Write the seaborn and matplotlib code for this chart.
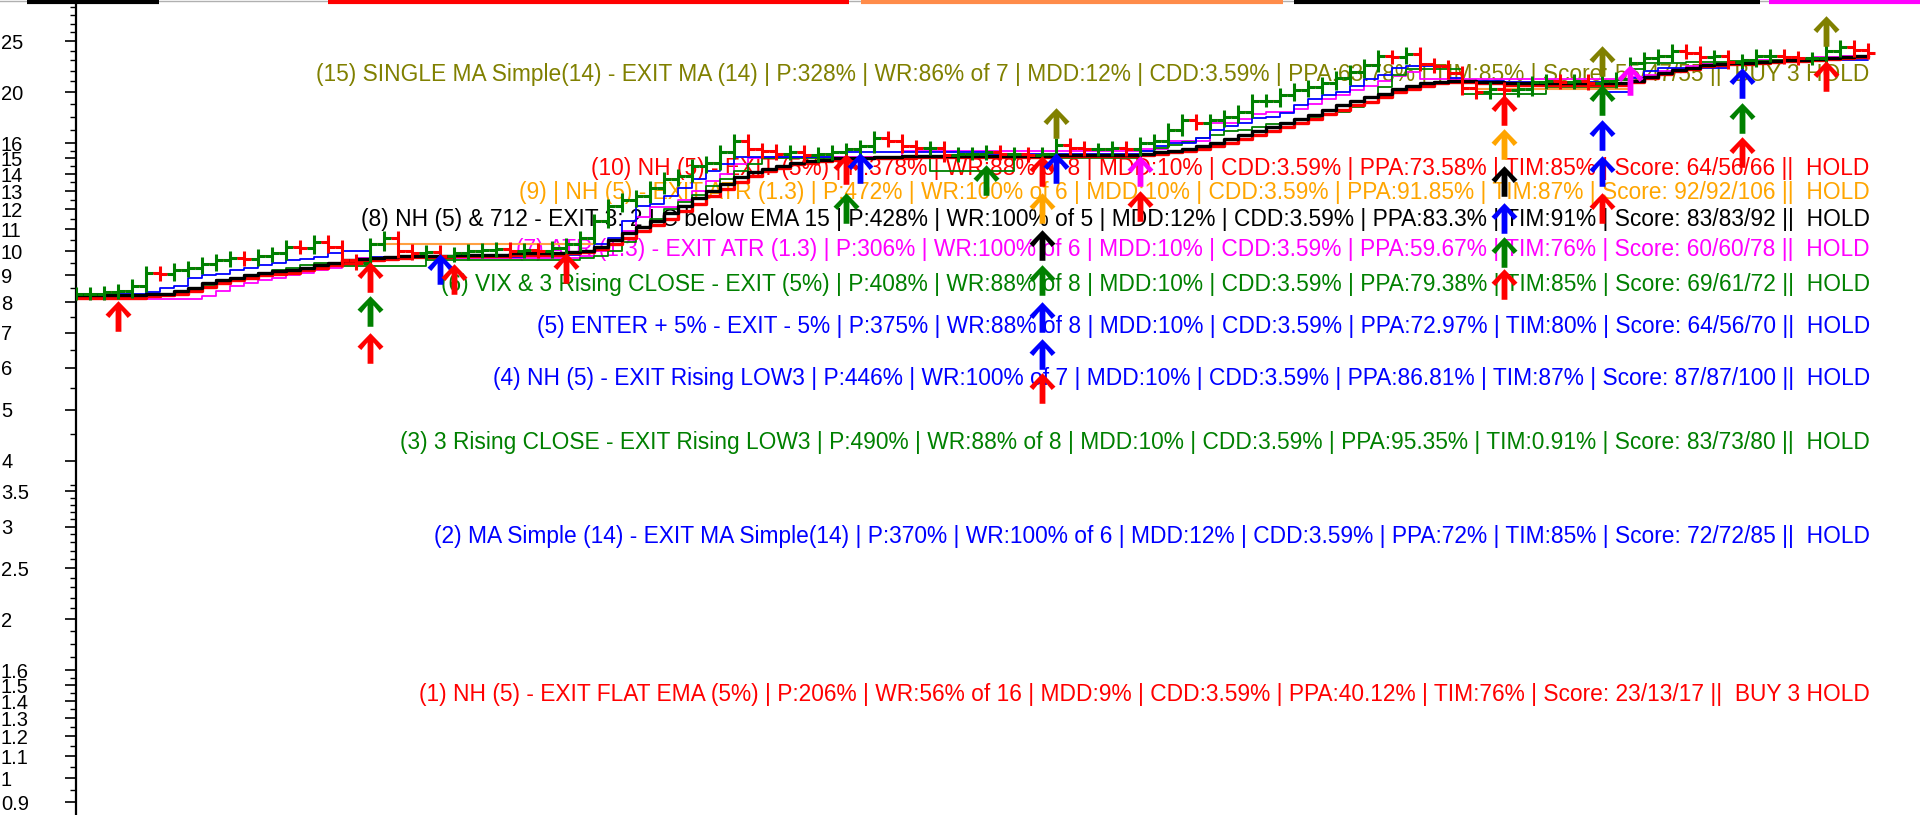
import matplotlib
matplotlib.use("Agg")
import matplotlib.pyplot as plt
import seaborn as sns
from matplotlib.path import Path
from matplotlib.ticker import NullFormatter, FixedLocator, FixedFormatter

# ---------------- data ----------------
close = [
    8.3, 8.3, 8.35, 8.4, 8.6, 9.1, 9.05, 9.2, 9.3, 9.45,
    9.6, 9.7, 9.65, 9.8, 9.9, 10.2, 10.15, 10.4, 10.2, 9.6,
    9.5, 10.3, 10.6, 10.0, 9.9, 9.95, 9.8, 9.9, 10.0, 10.05,
    10.1, 10.0, 10.05, 10.0, 10.15, 10.3, 10.6, 11.4, 12.2, 12.5,
    12.7, 13.2, 13.7, 13.9, 14.5, 14.7, 15.4, 16.2, 15.6, 15.5,
    15.3, 15.4, 15.2, 15.3, 15.4, 15.6, 15.8, 16.4, 16.2, 15.8,
    15.7, 15.7, 15.2, 15.3, 15.3, 15.4, 15.3, 15.3, 15.2, 15.3,
    15.9, 15.7, 15.6, 15.6, 15.7, 15.6, 16.0, 16.2, 17.0, 17.7,
    17.5, 17.7, 18.0, 18.4, 19.3, 19.3, 19.8, 20.2, 20.5, 20.8,
    21.3, 21.9, 22.5, 23.4, 23.3, 23.7, 22.6, 22.4, 21.8, 20.4,
    20.0, 20.3, 20.2, 20.3, 20.9, 21.0, 20.9, 21.0, 20.8, 21.0,
    21.2, 22.7, 23.2, 23.5, 24.0, 23.8, 23.3, 23.4, 22.8, 23.0,
    23.5, 23.5, 23.3, 23.2, 23.2, 24.0, 24.4, 24.1, 23.8,
]

eq_black = [
    8.25, 8.25, 8.25, 8.25, 8.25, 8.3, 8.3, 8.4, 8.5, 8.7,
    8.8, 8.9, 9.0, 9.1, 9.15, 9.2, 9.3, 9.4, 9.5, 9.6,
    9.65, 9.7, 9.75, 9.8, 9.8, 9.8, 9.8, 9.85, 9.85, 9.85,
    9.85, 9.9, 9.9, 9.9, 9.9, 9.95, 10.0, 10.2, 10.5, 10.8,
    11.1, 11.4, 11.8, 12.2, 12.6, 13.0, 13.4, 13.8, 14.1, 14.3,
    14.5, 14.7, 14.8, 14.9, 15.0, 15.0, 15.05, 15.1, 15.1, 15.15,
    15.15, 15.15, 15.15, 15.15, 15.15, 15.15, 15.15, 15.15, 15.15, 15.15,
    15.2, 15.2, 15.2, 15.2, 15.2, 15.2, 15.3, 15.4, 15.5, 15.6,
    15.8, 16.0, 16.3, 16.6, 16.9, 17.2, 17.5, 17.8, 18.1, 18.5,
    18.9, 19.3, 19.6, 19.9, 20.3, 20.6, 20.8, 20.9, 21.0, 21.0,
    20.9, 20.9, 20.8, 20.8, 20.8, 20.8, 20.8, 20.8, 20.8, 20.8,
    20.8, 21.0, 21.4, 21.8, 22.1, 22.3, 22.5, 22.6, 22.7, 22.7,
    22.8, 22.9, 23.0, 23.0, 23.1, 23.2, 23.3, 23.4, 23.5,
]

eq_red = [
    8.15, 8.15, 8.15, 8.15, 8.15, 8.2, 8.25, 8.3, 8.4, 8.55,
    8.7, 8.8, 8.9, 9.0, 9.05, 9.1, 9.2, 9.3, 9.4, 9.5,
    9.55, 9.6, 9.65, 9.7, 9.75, 9.75, 9.75, 9.8, 9.8, 9.8,
    9.8, 9.85, 9.85, 9.85, 9.85, 9.9, 9.95, 10.1, 10.3, 10.6,
    10.9, 11.2, 11.5, 11.9, 12.3, 12.7, 13.1, 13.5, 13.9, 14.2,
    14.4, 14.6, 14.7, 14.8, 14.9, 14.95, 15.0, 15.0, 15.05, 15.05,
    15.1, 15.1, 15.1, 15.1, 15.1, 15.1, 15.1, 15.1, 15.1, 15.1,
    15.15, 15.15, 15.15, 15.15, 15.15, 15.15, 15.2, 15.3, 15.4, 15.5,
    15.6, 15.8, 16.0, 16.3, 16.6, 16.9, 17.2, 17.5, 17.8, 18.2,
    18.5, 18.9, 19.2, 19.6, 20.0, 20.3, 20.6, 20.8, 20.9, 20.9,
    20.8, 20.8, 20.7, 20.7, 20.7, 20.7, 20.7, 20.7, 20.7, 20.7,
    20.7, 20.9, 21.3, 21.7, 22.0, 22.2, 22.4, 22.5, 22.6, 22.6,
    22.7, 22.8, 22.9, 22.9, 23.0, 23.1, 23.2, 23.3, 23.4,
]

eq_blue = [
    8.3, 8.3, 8.3, 8.3, 8.3, 8.35, 8.5, 8.6, 8.9, 9.0,
    9.05, 9.2, 9.3, 9.4, 9.5, 9.6, 9.65, 9.75, 9.9, 10.0,
    10.0, 9.75, 9.75, 9.75, 9.75, 9.75, 9.75, 9.75, 9.75, 9.75,
    9.75, 9.75, 9.8, 9.8, 9.8, 9.85, 9.9, 10.3, 10.6, 11.4,
    12.2, 12.3, 12.7, 13.2, 13.7, 14.2, 14.6, 15.1, 15.1, 15.1,
    15.1, 15.1, 15.1, 15.1, 15.4, 15.4, 15.4, 15.4, 15.4, 15.4,
    15.4, 15.4, 15.4, 15.4, 15.4, 15.3, 15.3, 15.3, 15.3, 15.3,
    15.3, 15.3, 15.3, 15.3, 15.3, 15.3, 15.5, 15.8, 16.0, 16.0,
    16.4, 17.0, 17.3, 17.5, 17.9, 18.0, 18.3, 18.9, 19.4, 19.8,
    20.0, 20.6, 21.2, 21.6, 22.3, 22.4, 22.4, 22.4, 21.3, 21.0,
    21.0, 21.0, 20.9, 20.9, 20.9, 20.9, 20.9, 20.9, 20.9, 20.0,
    20.0, 21.3, 22.0, 22.3, 22.3, 22.3, 22.3, 22.3, 22.8, 22.8,
    22.8, 22.9, 22.9, 22.9, 23.0, 23.0, 23.0, 23.0, 23.0,
]

eq_green = [
    8.2, 8.2, 8.2, 8.2, 8.2, 8.2, 8.3, 8.35, 8.35, 8.6,
    8.8, 8.9, 9.0, 9.1, 9.2, 9.3, 9.4, 9.5, 9.4, 9.35,
    9.35, 9.35, 9.35, 9.35, 9.35, 9.6, 9.6, 9.6, 9.6, 9.6,
    9.6, 9.6, 9.6, 9.6, 9.6, 9.6, 9.7, 9.8, 10.0, 10.4,
    10.9, 11.5, 12.0, 12.4, 12.8, 13.3, 13.7, 14.2, 14.6, 15.0,
    15.0, 15.0, 15.0, 15.0, 15.0, 15.0, 15.0, 15.0, 15.0, 15.0,
    15.0, 14.2, 14.2, 14.2, 14.2, 14.2, 14.2, 15.0, 15.0, 15.0,
    15.0, 15.0, 15.0, 15.0, 15.0, 15.0, 15.5, 15.7, 15.9, 16.1,
    16.4, 16.6, 16.9, 17.0, 17.2, 17.4, 17.5, 17.7, 17.9, 18.1,
    18.4, 18.8, 19.2, 20.5, 21.6, 22.2, 22.2, 22.2, 22.2, 19.9,
    19.9, 19.9, 19.9, 19.9, 19.9, 20.4, 20.4, 20.4, 20.4, 20.4,
    20.6, 22.2, 22.7, 22.7, 22.7, 22.8, 22.8, 22.8, 22.9, 22.9,
    22.9, 23.0, 23.0, 23.1, 23.1, 23.2, 23.2, 23.3, 23.3,
]

eq_magenta = [
    8.1, 8.1, 8.1, 8.1, 8.1, 8.1, 8.1, 8.1, 8.1, 8.2,
    8.4, 8.6, 8.7, 8.8, 8.9, 9.0, 9.1, 9.2, 9.3, 9.4,
    9.7, 9.7, 9.7, 9.7, 9.7, 9.7, 9.7, 9.7, 9.7, 9.7,
    9.7, 9.7, 9.7, 9.7, 9.7, 9.7, 9.8, 10.0, 10.3, 10.9,
    11.6, 12.1, 12.1, 12.5, 13.0, 13.6, 14.0, 14.6, 15.0, 15.1,
    15.1, 15.1, 15.1, 15.1, 15.1, 15.1, 15.1, 15.1, 15.1, 15.5,
    15.5, 15.5, 15.5, 15.5, 15.5, 15.5, 15.5, 15.5, 15.5, 15.5,
    15.5, 15.5, 15.5, 15.5, 15.5, 15.5, 15.6, 15.6, 16.2, 16.2,
    16.2, 17.5, 17.5, 17.8, 18.2, 18.4, 18.4, 18.6, 19.0, 19.4,
    19.8, 20.2, 20.6, 21.0, 21.5, 21.9, 21.2, 21.2, 21.2, 21.2,
    21.2, 21.2, 21.2, 21.2, 21.2, 21.2, 21.2, 21.2, 21.2, 21.2,
    21.2, 21.4, 21.6, 22.0, 22.2, 22.4, 22.6, 22.7, 22.8, 22.9,
    23.0, 23.0, 23.1, 23.2, 23.3, 23.3, 23.4, 23.4, 23.4,
]

orange_start = [21, 99]
orange_end = [37, 111]
orange_level = [10.3, 20.3]

arrow_idx = [3, 21, 21, 21, 26, 27, 35, 55, 55, 56, 65,
             69, 70, 70, 69, 69, 69, 69, 69, 69, 76, 76,
             102, 102, 102, 102, 102, 102,
             109, 109, 109, 109, 109, 111, 119, 119, 119, 125, 125]
arrow_val = [7.53, 8.94, 7.69, 6.55, 9.23, 8.84, 9.28, 12.05, 14.31, 14.38, 13.64,
             14.16, 14.38, 17.53, 12.06, 10.26, 8.81, 7.50, 6.38, 5.50, 14.18, 12.19,
             18.51, 15.93, 13.58, 11.55, 9.96, 8.66,
             22.94, 19.34, 16.63, 14.18, 12.06, 21.14, 20.84, 17.91, 15.43, 26.19, 21.48]
arrow_col = ["red", "red", "green", "red", "blue", "red", "red", "green", "red", "blue", "green",
             "red", "blue", "olive", "orange", "black", "green", "blue", "blue", "red", "magenta", "red",
             "red", "orange", "black", "blue", "green", "red",
             "olive", "green", "blue", "blue", "red", "magenta", "blue", "green", "red", "olive", "red"]

strategy_labels = [
    "(15) SINGLE MA Simple(14) - EXIT MA (14) | P:328% | WR:86% of 7 | MDD:12% | CDD:3.59% | PPA:63.78% | TIM:85% | Score: 55/47/55 ||  BUY 3 HOLD",
    "(10) NH (5) - EXIT (5%) | P:378% | WR:88% of 8 | MDD:10% | CDD:3.59% | PPA:73.58% | TIM:85% | Score: 64/56/66 ||  HOLD",
    "(9) | NH (5) - EXIT ATR (1.3) | P:472% | WR:100% of 6 | MDD:10% | CDD:3.59% | PPA:91.85% | TIM:87% | Score: 92/92/106 ||  HOLD",
    "(8) NH (5) & 712 - EXIT 3: 2 LC below EMA 15 | P:428% | WR:100% of 5 | MDD:12% | CDD:3.59% | PPA:83.3% | TIM:91% | Score: 83/83/92 ||  HOLD",
    "(7) ATR (1.3) - EXIT ATR (1.3) | P:306% | WR:100% of 6 | MDD:10% | CDD:3.59% | PPA:59.67% | TIM:76% | Score: 60/60/78 ||  HOLD",
    "(6) VIX & 3 Rising CLOSE - EXIT (5%) | P:408% | WR:88% of 8 | MDD:10% | CDD:3.59% | PPA:79.38% | TIM:85% | Score: 69/61/72 ||  HOLD",
    "(5) ENTER + 5% - EXIT - 5% | P:375% | WR:88% of 8 | MDD:10% | CDD:3.59% | PPA:72.97% | TIM:80% | Score: 64/56/70 ||  HOLD",
    "(4) NH (5) - EXIT Rising LOW3 | P:446% | WR:100% of 7 | MDD:10% | CDD:3.59% | PPA:86.81% | TIM:87% | Score: 87/87/100 ||  HOLD",
    "(3) 3 Rising CLOSE - EXIT Rising LOW3 | P:490% | WR:88% of 8 | MDD:10% | CDD:3.59% | PPA:95.35% | TIM:0.91% | Score: 83/73/80 ||  HOLD",
    "(2) MA Simple (14) - EXIT MA Simple(14) | P:370% | WR:100% of 6 | MDD:12% | CDD:3.59% | PPA:72% | TIM:85% | Score: 72/72/85 ||  HOLD",
    "(1) NH (5) - EXIT FLAT EMA (5%) | P:206% | WR:56% of 16 | MDD:9% | CDD:3.59% | PPA:40.12% | TIM:76% | Score: 23/13/17 ||  BUY 3 HOLD",
]
label_level = [21.6, 14.37, 12.93, 11.49, 10.05, 8.65, 7.18, 5.73, 4.34, 2.875, 1.441]
label_color = ["#808000", "#FF0000", "#FFA500", "#000000", "#FF00FF", "#008000",
               "#0000FF", "#0000FF", "#008000", "#0000FF", "#FF0000"]

ytick_major = [0.9, 1, 1.1, 1.2, 1.3, 1.4, 1.5, 1.6, 2, 2.5, 3, 3.5, 4, 5, 6, 7, 8, 9,
               10, 11, 12, 13, 14, 15, 16, 20, 25]
ytick_labels = ["0.9", "1", "1.1", "1.2", "1.3", "1.4", "1.5", "1.6", "2", "2.5", "3", "3.5",
                "4", "5", "6", "7", "8", "9", "10", "11", "12", "13", "14", "15", "16", "20", "25"]
ytick_minor = [0.95, 1.05, 1.15, 1.25, 1.35, 1.45, 1.55, 1.7, 1.8, 1.9,
               2.1, 2.2, 2.3, 2.4, 2.6, 2.7, 2.8, 2.9, 3.1, 3.2, 3.3, 3.4, 3.6,
               4.5, 5.5, 6.5, 7.5, 8.5, 9.5, 10.5, 11.5, 12.5, 13.5, 14.5, 15.5,
               17, 18, 19, 21, 22, 23, 24, 26, 27, 28, 29]

regime_start = [-3.5, 18.0, 56.1, 87.0, 120.9]
regime_end = [5.9, 55.2, 86.2, 120.3, 131.7]
regime_color = ["#000000", "#FF0000", "#FF8C4A", "#000000", "#FF00FF"]

# ---------------- style ----------------
sns.set_theme(style="white")
plt.rcParams["font.family"] = ["Liberation Sans", "DejaVu Sans"]

COLORS = {"red": "#FF0000", "green": "#008000", "blue": "#0000FF", "magenta": "#FF00FF",
          "orange": "#FFA500", "black": "#000000", "olive": "#808000"}

fig = plt.figure(figsize=(19.2, 8.15), dpi=100)
ax = fig.add_axes([76 / 1920, 0.0, 1 - 76 / 1920, 1.0])
ax.set_yscale("log")
ax.set_xlim(0, 131.7)
ax.set_ylim(0.851, 29.95)

for s in ["top", "right", "bottom"]:
    ax.spines[s].set_visible(False)
ax.spines["left"].set_linewidth(1.6)
ax.spines["left"].set_color("black")
ax.set_xticks([])
ax.set_xlabel("")
ax.set_ylabel("")

ax.yaxis.set_major_locator(FixedLocator(ytick_major))
ax.yaxis.set_major_formatter(FixedFormatter(ytick_labels))
ax.yaxis.set_minor_locator(FixedLocator(ytick_minor))
ax.yaxis.set_minor_formatter(NullFormatter())
ax.tick_params(axis="y", which="major", direction="out", length=8, width=1.2,
               color="black", labelsize=14.5, pad=46, labelcolor="black", left=True)
ax.tick_params(axis="y", which="minor", direction="out", length=4, width=1.0,
               color="black", left=True)
for lab in ax.get_yticklabels():
    lab.set_horizontalalignment("left")

# strategy texts (below the lines)
ytrans = ax.get_yaxis_transform()
for txt, lvl, col in zip(strategy_labels, label_level, label_color):
    ax.text(0.9728, lvl, txt, transform=ytrans, ha="right", va="center",
            fontsize=16.4, color=col, zorder=2)

# equity / indicator step lines
idx = list(range(len(close)))
sns.lineplot(x=idx, y=close, ax=ax, color="#FF0000", lw=1.2, drawstyle="steps-post",
             legend=False, zorder=3)
sns.lineplot(x=list(range(len(eq_magenta))), y=eq_magenta, ax=ax, color="#FF00FF", lw=1.3,
             drawstyle="steps-post", legend=False, zorder=3)
sns.lineplot(x=list(range(len(eq_green))), y=eq_green, ax=ax, color="#008000", lw=1.3,
             drawstyle="steps-post", legend=False, zorder=3)
sns.lineplot(x=list(range(len(eq_blue))), y=eq_blue, ax=ax, color="#0000FF", lw=1.3,
             drawstyle="steps-post", legend=False, zorder=3)
sns.lineplot(x=list(range(len(eq_red))), y=eq_red, ax=ax, color="#FF0000", lw=2.4,
             drawstyle="steps-post", legend=False, zorder=4)
sns.lineplot(x=list(range(len(eq_black))), y=eq_black, ax=ax, color="#000000", lw=2.4,
             drawstyle="steps-post", legend=False, zorder=4)
ax.hlines(orange_level, orange_start, orange_end, color="#FFA040", lw=1.5, zorder=3)

# price bars (open = previous close)
opens = [close[0]] + close[:-1]
for i, (o, c) in enumerate(zip(opens, close)):
    lo, hi = min(o, c) / 1.03, max(o, c) * 1.03
    col = "#008000" if c >= o else "#FF0000"
    ax.vlines(i, lo, hi, color=col, lw=2.2, zorder=5)
    ax.hlines(o, i - 0.5, i, color=col, lw=2.2, zorder=5)
    ax.hlines(c, i, i + 0.5, color=col, lw=2.2, zorder=5)

# signal arrows
arrow_path = Path([(0, 1), (0.85, 0.12), (0.6, -0.1), (0.19, 0.4), (0.19, -1),
                   (-0.19, -1), (-0.19, 0.4), (-0.6, -0.1), (-0.85, 0.12), (0, 1)],
                  closed=True)
for xi, yv, cn in zip(arrow_idx, arrow_val, arrow_col):
    ax.plot([xi], [yv], marker=arrow_path, markersize=22, color=COLORS[cn],
            markeredgewidth=0, linestyle="none", zorder=7)

# regime bar at the very top
top = ax.get_xaxis_transform()
ax.plot([-6, 132], [0.9985, 0.9985], transform=top, color="#B0B0B0", lw=1.0,
        clip_on=False, zorder=8)
for xs, xe, col in zip(regime_start, regime_end, regime_color):
    ax.plot([xs, xe], [0.998, 0.998], transform=top, color=col, lw=3.0,
            solid_capstyle="butt", clip_on=False, zorder=9)

fig.savefig("out.png", dpi=100)
